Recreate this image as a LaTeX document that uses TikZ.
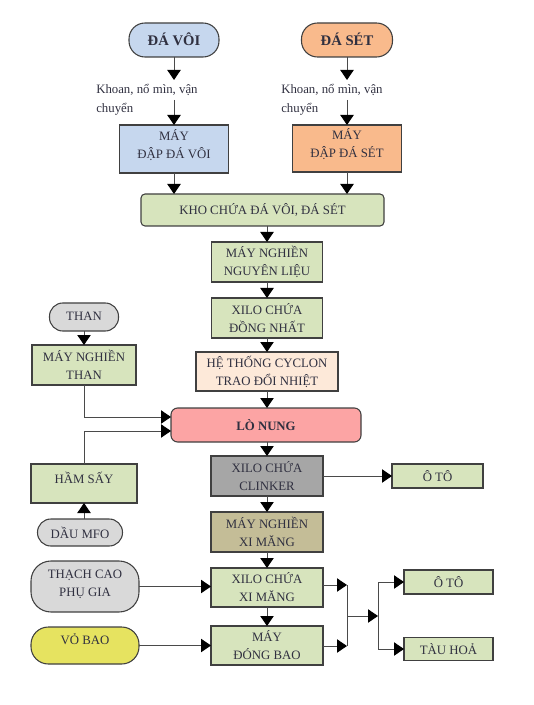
\documentclass[tikz,border=0pt]{standalone}
\usepackage{fontspec}
\setmainfont{Liberation Serif}
\usetikzlibrary{arrows.meta}
\definecolor{bordc}{HTML}{404040}
\definecolor{linec}{HTML}{4A4A4A}
\definecolor{txtc}{HTML}{303040}
\definecolor{blu}{HTML}{C6D7EE}
\definecolor{pch}{HTML}{F9BA8C}
\definecolor{grn}{HTML}{D7E4BD}
\definecolor{cyc}{HTML}{FDE9D9}
\definecolor{pnk}{HTML}{FCA4A4}
\definecolor{gry}{HTML}{A6A6A6}
\definecolor{lgry}{HTML}{D9D9D9}
\definecolor{tan}{HTML}{C4BD97}
\definecolor{yel}{HTML}{E6E360}
\begin{document}
\begin{tikzpicture}[x=0.75pt,y=-0.75pt,
  sz/.style 2 args={minimum width=#1*0.75pt,minimum height=#2*0.75pt},
  box/.style={draw=bordc, line width=0.8pt, inner sep=0pt, outer sep=0pt,
    align=center, text=txtc, font=\fontsize{9.6}{13.5}\selectfont},
  gbox/.style={box, fill=grn},
  pill/.style={box, rounded corners=#1},
  lbl/.style={inner sep=0pt, align=left, text=txtc, font=\fontsize{9.6}{14.2}\selectfont},
  arr/.style={draw=linec, line width=0.75pt, -{Triangle[length=7.5pt,width=10pt,color=black]}},
  ln/.style={draw=linec, line width=0.75pt}
]
\useasboundingbox (0,0) rectangle (534,705);

% top sources
\node[pill=12pt, fill=blu, sz={90}{34}, font=\bfseries\fontsize{11}{13}\selectfont] (davoi) at (174,40) {\raisebox{1.5pt}{ĐÁ VÔI}};
\node[pill=12pt, fill=pch, sz={91}{34}, font=\bfseries\fontsize{11}{13}\selectfont] (dasat) at (347,40) {\raisebox{1.5pt}{ĐÁ SÉT}};

\coordinate (va1) at (174,80);
\coordinate (va2) at (174,100);
\coordinate (vb1) at (347,80);
\coordinate (vb2) at (347,100);
\node[lbl, anchor=west] (lblA) at (96,99.5) {Khoan, nổ mìn, vận\\chuyển};
\node[lbl, anchor=west] (lblB) at (281,99.5) {Khoan, nổ mìn, vận\\chuyển};

\node[box, fill=blu, sz={109}{48}] (mdv) at (174,149) {\raisebox{2.5pt}[\height][\depth]{\begin{tabular}{@{}c@{}}MÁY\\ĐẬP ĐÁ VÔI\end{tabular}}};
\node[box, fill=pch, sz={109}{47}] (mds) at (347,148.5) {\raisebox{2.5pt}[\height][\depth]{\begin{tabular}{@{}c@{}}MÁY\\ĐẬP ĐÁ SÉT\end{tabular}}};

\node[gbox, rounded corners=3pt, sz={243}{32}] (kho) at (262.5,210) {KHO CHỨA ĐÁ VÔI, ĐÁ SÉT};

% centre column
\node[gbox, sz={111}{40}] (mnnl) at (267,262) {MÁY NGHIỀN\\NGUYÊN LIỆU};
\node[gbox, sz={111}{40}] (xilodn) at (267,318) {XILO CHỨA\\ĐỒNG NHẤT};
\node[box, fill=cyc, sz={142}{39}] (cyclon) at (267,371.5) {HỆ THỐNG CYCLON\\TRAO ĐỔI NHIỆT};
\node[pill=5pt, fill=pnk, sz={190}{34}, font=\bfseries\fontsize{9.6}{12}\selectfont] (lonung) at (266,425) {LÒ NUNG};
\node[box, fill=gry, sz={112}{40}] (clinker) at (267,476) {XILO CHỨA\\CLINKER};
\node[gbox, sz={91}{24}] (oto1) at (437.5,476) {Ô TÔ};
\node[box, fill=tan, sz={112}{40}] (mnxm) at (267,532) {MÁY NGHIỀN\\XI MĂNG};
\node[gbox, sz={112}{39}] (xiloxm) at (267,587.5) {XILO CHỨA\\XI MĂNG};
\node[gbox, sz={112}{39}] (dongbao) at (267,645.5) {MÁY\\ĐÓNG BAO};

% left column
\node[pill=10pt, fill=lgry, sz={69}{28}] (than) at (84,317) {\raisebox{1.5pt}{THAN}};
\node[gbox, sz={104}{40}] (mnthan) at (84,365) {MÁY NGHIỀN\\THAN};
\node[gbox, sz={106}{39}] (hamsay) at (84,483.5) {\raisebox{4.5pt}[\height][\depth]{HẦM SẤY}};
\node[pill=10pt, fill=lgry, sz={85}{27}] (daumfo) at (80,532.5) {DẦU MFO};
\node[pill=15pt, fill=lgry, sz={108}{51}] (thachcao) at (85,586.5) {\raisebox{2pt}[\height][\depth]{\begin{tabular}{@{}c@{}}THẠCH CAO\\PHỤ GIA\end{tabular}}};
\node[pill=13pt, fill=yel, sz={108}{37}] (vobao) at (85,645.5) {\raisebox{5pt}[\height][\depth]{VỎ BAO}};

% right outputs
\node[gbox, sz={89}{24}] (oto2) at (448.5,582) {Ô TÔ};
\node[gbox, sz={89}{23}] (tauhoa) at (448.5,649) {TÀU HOẢ};

% connectors: top
\draw[arr] (davoi) -- (va1);
\draw[arr] (va2) -- (mdv);
\draw[arr] (dasat) -- (vb1);
\draw[arr] (vb2) -- (mds);
\draw[arr] (mdv.south) -- (mdv.south |- kho.north);
\draw[arr] (mds.south) -- (mds.south |- kho.north);
\draw[arr] (mnnl.north |- kho.south) -- (mnnl.north);
\draw[arr] (mnnl) -- (xilodn);
\draw[arr] (xilodn) -- (cyclon);
\draw[arr] (cyclon.south) -- (cyclon.south |- lonung.north);
\draw[arr] (clinker.north |- lonung.south) -- (clinker.north);
\draw[arr] (clinker) -- (mnxm);
\draw[arr] (clinker) -- (oto1);
\draw[arr] (mnxm) -- (xiloxm);
\draw[arr] (xiloxm) -- (dongbao);

% left side
\draw[arr] (than) -- (mnthan);
\draw[arr] (mnthan.south) |- ([yshift=6pt]lonung.west);
\draw[arr] (hamsay.north) |- ([yshift=-4.5pt]lonung.west);
\draw[arr] (hamsay.south |- daumfo.north) -- (hamsay.south);
\draw[arr] (thachcao) -- (thachcao -| xiloxm.west);
\draw[arr] (vobao) -- (vobao -| dongbao.west);

% distribution
\coordinate (j1) at (347,585);
\coordinate (j2) at (347,646);
\coordinate (jm) at (347,616);
\coordinate (k) at (378,616);
\coordinate (k1) at (378,582);
\coordinate (k2) at (378,649);
\draw[arr] (xiloxm.east |- j1) -- (j1);
\draw[arr] (dongbao.east |- j2) -- (j2);
\draw[ln] (j1) -- (j2);
\draw[arr] (jm) -- (k);
\draw[ln] (k1) -- (k2);
\draw[arr] (k1) -- (oto2);
\draw[arr] (k2) -- (tauhoa);
\end{tikzpicture}
\end{document}
